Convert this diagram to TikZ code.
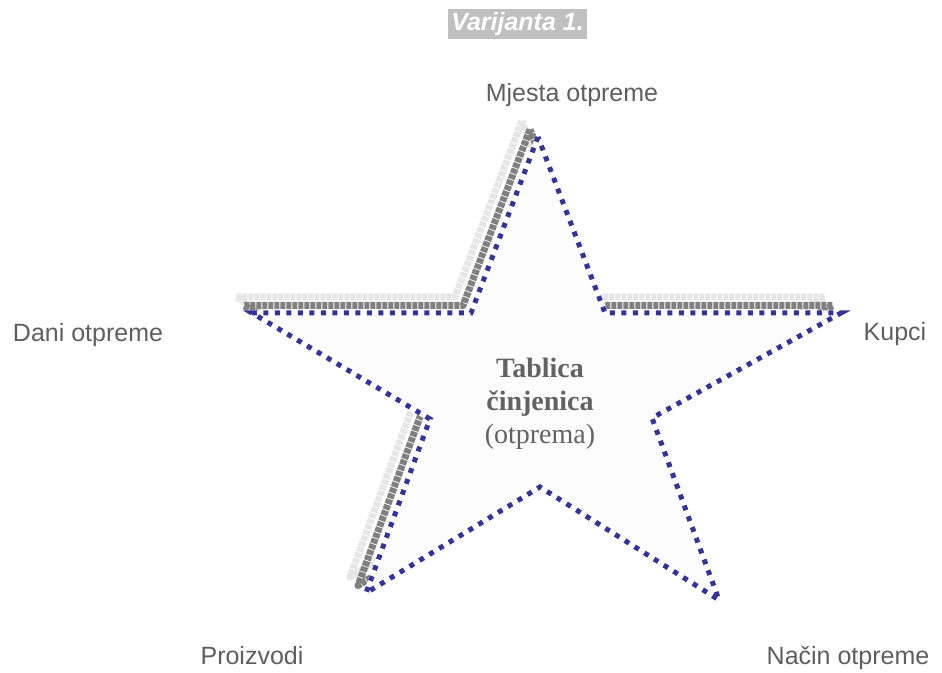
\documentclass[tikz,border=0pt]{standalone}
\usepackage{fontspec}
\setmainfont{Liberation Serif}
\setsansfont{Liberation Sans}
\definecolor{starblue}{HTML}{333399}
\definecolor{labelgray}{HTML}{5E5E5E}
\definecolor{centergray}{HTML}{626262}
\definecolor{titlegray}{HTML}{C0C0C0}
\definecolor{shadowdark}{HTML}{808080}
\definecolor{shadowlight}{HTML}{E6E6E6}
\definecolor{starfill}{HTML}{FCFCFC}
\newcommand\staroutline{(538,535) -- (471,359) -- (252,359) -- (430,253) -- (366,79)
  -- (540,185) -- (719,72) -- (652,254) -- (841,359) -- (605,359) -- cycle}
\tikzset{
  dimlabel/.style={font=\sffamily\fontsize{25}{30}\selectfont, text=labelgray, anchor=base},
  shadowline/.style={line width=7pt, dash pattern=on 5pt off 1pt, line join=round},
  staredge/.style={draw=starblue, line width=5pt, dash pattern=on 5pt off 6.5pt, line join=miter},
}
\begin{document}
\begin{tikzpicture}[x=1pt,y=1pt]
\useasboundingbox (0,0) rectangle (942,672);

% layered shadow outlines
\draw[shadowline, draw=shadowlight, shift={(-16,16)}] \staroutline;
\draw[shadowline, draw=shadowdark, shift={(-8,7.5)}] \staroutline;

% the star itself
\path[fill=starfill, draw=white, line width=5pt] \staroutline;
\draw[staredge] \staroutline;

% title
\node[fill=titlegray, text=white, inner sep=0pt, minimum width=139pt, minimum height=30pt,
      font=\sffamily\bfseries\itshape\fontsize{25}{30}\selectfont] (title) at (517.5,648) {Varijanta 1.};

% centre text
\node[align=center, text=centergray, font=\fontsize{28}{33}\selectfont] (fact) at (540,268)
  {\textbf{Tablica}\\\textbf{činjenica}\\(otprema)};

% dimension labels
\node[dimlabel] (mjesta) at (572,570) {Mjesta otpreme};
\node[dimlabel] (dani) at (88,330) {Dani otpreme};
\node[dimlabel] (kupci) at (895,331) {Kupci};
\node[dimlabel] (proizvodi) at (252,8) {Proizvodi};
\node[dimlabel] (nacin) at (848,8) {Način otpreme};
\end{tikzpicture}
\end{document}
